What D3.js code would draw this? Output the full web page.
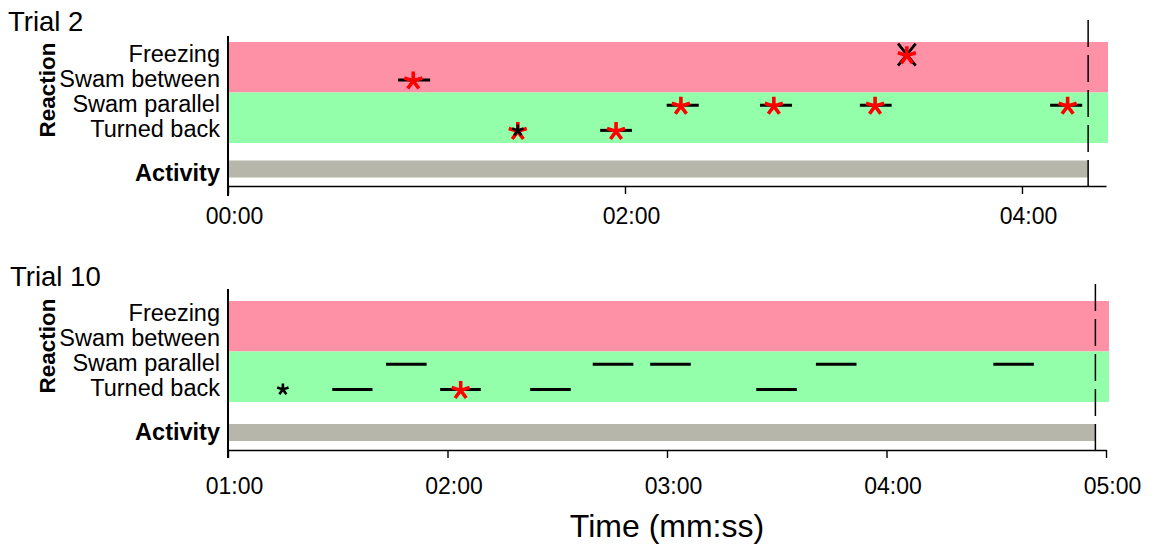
<!DOCTYPE html>
<html>
<head>
<meta charset="utf-8">
<script src="https://cdn.jsdelivr.net/npm/d3@7"></script>
<style>
  html, body { margin: 0; padding: 0; background: #fff; }
  svg { display: block; font-family: "Liberation Sans", Arial, sans-serif; }
</style>
</head>
<body>
<div id="chart"></div>
<script>
/* DATA */
var rows = ["Freezing", "Swam between", "Swam parallel", "Turned back"];
var alarmRows = ["Freezing", "Swam between"];   /* pink */
var calmRows = ["Swam parallel", "Turned back"]; /* green */

/* trial 2, times in seconds */
var trial2Ticks = [0, 120, 240];
var trial2Domain = [0, 265.4];
var trial2End = 260;
var trial2Bouts = [
  {row: "Swam between", start: 51.4, end: 61.1},
  {row: "Turned back", start: 112.5, end: 122.1},
  {row: "Swam parallel", start: 132.6, end: 142.3},
  {row: "Swam parallel", start: 160.8, end: 170.5},
  {row: "Swam parallel", start: 191.0, end: 200.6},
  {row: "Swam parallel", start: 248.5, end: 258.2}
];
var trial2Stars = [
  {row: "Swam between", t: 56.0},
  {row: "Turned back", t: 87.6},
  {row: "Turned back", t: 117.3},
  {row: "Swam parallel", t: 136.9},
  {row: "Swam parallel", t: 165.0},
  {row: "Swam parallel", t: 195.6},
  {row: "Swam parallel", t: 253.8},
  {row: "Freezing", t: 205.2}
];
var trial2Points = [{row: "Turned back", t: 87.6}];
var trial2Crosses = [{row: "Freezing", t: 205.2}];

/* trial 10 */
var trial10Ticks = [60, 120, 180, 240, 300];
var trial10Domain = [60, 300];
var trial10End = 297.1;
var trial10Bouts = [
  {row: "Turned back", start: 88.5, end: 99.5},
  {row: "Turned back", start: 118.0, end: 129.1},
  {row: "Turned back", start: 142.6, end: 153.7},
  {row: "Turned back", start: 204.4, end: 215.5},
  {row: "Swam parallel", start: 103.2, end: 114.3},
  {row: "Swam parallel", start: 159.7, end: 170.8},
  {row: "Swam parallel", start: 175.4, end: 186.5},
  {row: "Swam parallel", start: 220.7, end: 231.8},
  {row: "Swam parallel", start: 269.2, end: 280.3}
];
var trial10Stars = [{row: "Turned back", t: 123.6}];
var trial10Points = [{row: "Turned back", t: 75.0}];
var trial10Crosses = [];

/* STYLE */
var col = {pink: "#ff91a7", green: "#94ffab", gray: "#b6b6aa", red: "#ff0000"};

var svg = d3.select("#chart").append("svg")
  .attr("width", 1154).attr("height", 545);

/* five armed asterisk */
var star5 = {
  draw: function(ctx, size) {
    var r = Math.sqrt(size);
    for (var k = 0; k < 5; k++) {
      var a = -Math.PI / 2 + k * 2 * Math.PI / 5;
      ctx.moveTo(0, 0);
      ctx.lineTo(r * Math.cos(a), r * Math.sin(a));
    }
  }
};
/* tall X */
var cross = {
  draw: function(ctx, size) {
    var r = Math.sqrt(size);
    ctx.moveTo(-r * 0.8, -r); ctx.lineTo(r * 0.8, r);
    ctx.moveTo(-r * 0.8, r); ctx.lineTo(r * 0.8, -r);
  }
};

function fmt(s) {
  var m = Math.floor(s / 60), sec = Math.round(s % 60);
  return d3.format("02")(m) + ":" + d3.format("02")(sec);
}

function panel(p) {
  var x = d3.scaleLinear().domain(p.domain).range([228, 1106]);
  var y = d3.scaleBand().domain(rows).range([p.top, p.bottom]);
  var g = svg.append("g");
  var xEnd = x.range()[1] + p.bandExtra;

  /* background bands */
  g.append("rect").attr("x", x.range()[0]).attr("y", y(alarmRows[0]))
    .attr("width", xEnd - x.range()[0]).attr("height", y.bandwidth() * 2)
    .attr("fill", col.pink);
  g.append("rect").attr("x", x.range()[0]).attr("y", y(calmRows[0]))
    .attr("width", xEnd - x.range()[0]).attr("height", y.bandwidth() * 2)
    .attr("fill", col.green);

  /* activity bar */
  g.append("rect").attr("x", x(p.domain[0]) + 1).attr("y", p.actTop)
    .attr("width", x(p.end) - x(p.domain[0]) - 1).attr("height", p.actBot - p.actTop)
    .attr("fill", col.gray);

  /* x axis */
  var ax = g.append("g")
    .attr("transform", "translate(0," + p.axisY + ")")
    .call(d3.axisBottom(x).tickValues(p.ticks).tickFormat(fmt).tickSize(8).tickSizeOuter(0).tickPadding(p.tickPad));
  ax.select(".domain").attr("stroke-width", 1.6);
  ax.selectAll(".tick line").attr("stroke-width", 1.4);
  ax.selectAll(".tick text").attr("font-size", 23).attr("dx", 6)
    .attr("font-family", "Liberation Sans, Arial, sans-serif").attr("fill", "#000");

  /* y axis line */
  g.append("line").attr("x1", 228).attr("x2", 228)
    .attr("y1", p.yTop).attr("y2", p.yBot)
    .attr("stroke", "#000").attr("stroke-width", 2);

  /* row labels */
  g.selectAll(".rowlab").data(rows).enter().append("text")
    .attr("x", 220).attr("y", function(d) { return y(d) + y.bandwidth() / 2; })
    .attr("dy", "0.3em").attr("text-anchor", "end").attr("font-size", 23.5)
    .text(function(d) { return d; });
  g.append("text").attr("x", 220).attr("y", p.actLabelY)
    .attr("text-anchor", "end").attr("font-size", 23.5).attr("font-weight", "bold")
    .text("Activity");
  g.append("text")
    .attr("transform", "translate(55," + p.reactionY + ") rotate(-90)")
    .attr("text-anchor", "middle").attr("font-size", 22.5).attr("font-weight", "bold")
    .text("Reaction");
  g.append("text").attr("x", p.titleX).attr("y", p.titleY)
    .attr("font-size", 27.5).text(p.title);

  /* end of trial */
  g.append("line").attr("x1", x(p.end)).attr("x2", x(p.end))
    .attr("y1", p.dashTop).attr("y2", p.axisY + 3)
    .attr("stroke", "#000").attr("stroke-width", 1.5)
    .attr("stroke-dasharray", "27,8");

  /* bouts */
  g.selectAll(".bout").data(p.bouts).enter().append("line")
    .attr("x1", function(d) { return x(d.start); })
    .attr("x2", function(d) { return x(d.end); })
    .attr("y1", function(d) { return y(d.row) + y.bandwidth() / 2; })
    .attr("y2", function(d) { return y(d.row) + y.bandwidth() / 2; })
    .attr("stroke", "#000").attr("stroke-width", 3);

  /* crosses (under red) */
  g.selectAll(".cross").data(p.crosses).enter().append("path")
    .attr("transform", function(d) { return "translate(" + x(d.t) + "," + (y(d.row) + y.bandwidth() / 2) + ")"; })
    .attr("d", d3.symbol().type(cross).size(121))
    .attr("fill", "none").attr("stroke", "#000").attr("stroke-width", 2.8);

  /* red asterisks */
  g.selectAll(".star").data(p.stars).enter().append("path")
    .attr("transform", function(d) { return "translate(" + x(d.t) + "," + (y(d.row) + y.bandwidth() / 2 + 1) + ")"; })
    .attr("d", d3.symbol().type(star5).size(90))
    .attr("fill", "none").attr("stroke", col.red).attr("stroke-width", 3.6);

  /* black asterisks */
  g.selectAll(".pt").data(p.points).enter().append("path")
    .attr("transform", function(d) { return "translate(" + x(d.t) + "," + (y(d.row) + y.bandwidth() / 2) + ")"; })
    .attr("d", d3.symbol().type(star5).size(36))
    .attr("fill", "none").attr("stroke", "#000").attr("stroke-width", 2.6);
}

panel({
  title: "Trial 2", titleX: 8, titleY: 31,
  domain: trial2Domain, ticks: trial2Ticks, end: trial2End,
  bouts: trial2Bouts, stars: trial2Stars, points: trial2Points, crosses: trial2Crosses,
  top: 42, bottom: 143, actTop: 160.5, actBot: 177.5, actLabelY: 181,
  axisY: 186, yTop: 36, yBot: 196, dashTop: 20, reactionY: 90,
  bandExtra: 2, tickPad: 14
});

panel({
  title: "Trial 10", titleX: 10, titleY: 286,
  domain: trial10Domain, ticks: trial10Ticks, end: trial10End,
  bouts: trial10Bouts, stars: trial10Stars, points: trial10Points, crosses: trial10Crosses,
  top: 301, bottom: 402, actTop: 424, actBot: 441, actLabelY: 440,
  axisY: 450, yTop: 289, yBot: 458, dashTop: 284, reactionY: 346,
  bandExtra: 3, tickPad: 20
});

/* x axis title */
svg.append("text").attr("x", 667).attr("y", 537)
  .attr("text-anchor", "middle").attr("font-size", 32)
  .text("Time (mm:ss)");
</script>
</body>
</html>
